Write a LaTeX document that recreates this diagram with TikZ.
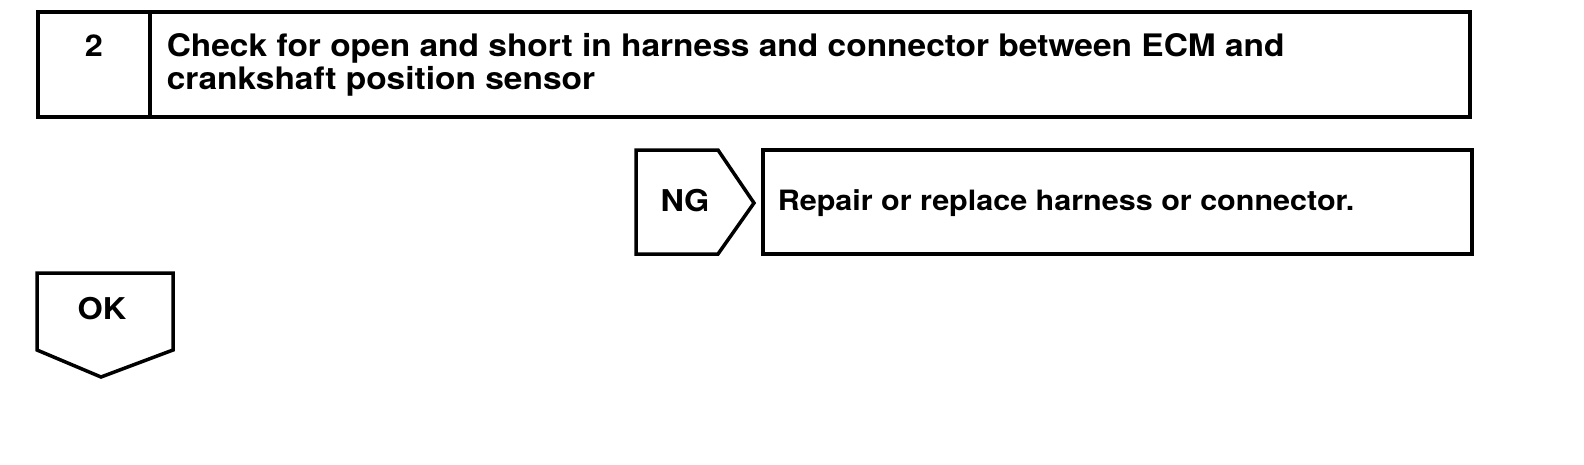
\documentclass[tikz,border=0pt]{standalone}
\usepackage{fontspec}
\setmainfont{TeX Gyre Heros}
\newfontfamily\widefont[FakeStretch=1.08]{TeX Gyre Heros}
\usetikzlibrary{positioning,fit}

\begin{document}
\begin{tikzpicture}[x=1pt, y=-1pt, line width=3.5pt, line join=miter]
		\tikzset{label/.style={inner sep=0pt, anchor=base, font=\widefont\fontsize{30}{32}\selectfont\bfseries, text=black}}
		\tikzset{title/.style={label, anchor=base west, font=\widefont\fontsize{31}{32}\selectfont\bfseries}}
		\tikzset{frame/.style={draw=black, inner sep=0pt}}

		\useasboundingbox (0,0) rectangle (1584,464);

		% step header
		\node[fit={(38,12) (150,117)}, frame] (stepno) {};
		\node[fit={(150,12) (1470,117)}, frame] (steptext) {};
		\node[label] (two) at (stepno.center |- 0,56) {2};
		\node[title] (check) at (165,56) {Check for open and short in harness and connector between ECM and};
		\node[title] (crank) at (165,89) {crankshaft position sensor};

		% NG branch
		\draw (636,150) -- (718,150) -- (754,203) -- (718,254) -- (636,254) -- cycle;
		\node[label] (ng) at (685,211) {NG};
		\node[fit={(763,150) (1472,254)}, frame] (repairbox) {};
		\node[title, font=\fontsize{28}{30}\selectfont\bfseries\addfontfeatures{FakeStretch=1.09}] (repair) at (776,210) {Repair or replace harness or connector.};

		% OK branch
		\draw (37,273) -- (173,273) -- (173,350) -- (101,377) -- (37,350) -- cycle;
		\node[label] (ok) at (102,319) {OK};

\end{tikzpicture}
\end{document}
